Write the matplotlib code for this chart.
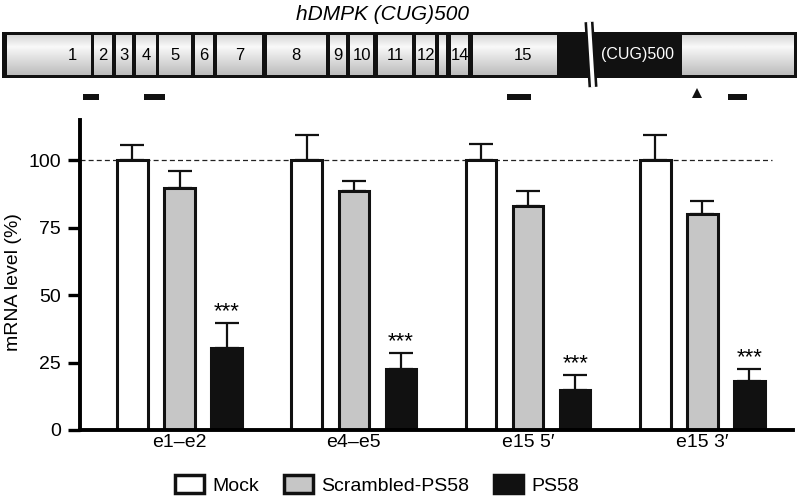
import numpy as np
import matplotlib
matplotlib.use("Agg")
import matplotlib.pyplot as plt
from matplotlib.patches import Rectangle, Patch, Polygon

plt.rcParams['font.family'] = ['Liberation Sans', 'DejaVu Sans']

# bar chart data
regions = ["e1\u2013e2", "e4\u2013e5", "e15 5\u2032", "e15 3\u2032"]
series = ["Mock", "Scrambled-PS58", "PS58"]
mock = [100, 100, 100, 100]
mock_err = [5.7, 9.4, 6.0, 9.3]
scrambled = [89.6, 88.6, 83.0, 80.3]
scrambled_err = [6.4, 3.6, 5.5, 4.8]
ps58 = [30.3, 22.5, 15.0, 18.0]
ps58_err = [9.4, 6.0, 5.3, 4.5]
signif = ["***", "***", "***", "***"]

# gene diagram (pixel units of the top strip)
exon_names = ["1", "2", "3", "4", "5", "6", "7", "8", "9", "10",
              "11", "12", "", "14", "15", ""]
exon_start = [7, 94, 116, 136, 159, 195, 217, 267, 330, 350,
              378, 416, 439, 451, 473, 682]
exon_end = [91, 112, 132, 156, 191, 213, 262, 326, 346, 373,
            412, 435, 446, 468, 557, 794]
exon_label_x = [72, 103, 124, 146, 175, 204, 240, 296, 338, 362,
                395, 426, 443, 460, 523, 738]
primer_start = [83, 144, 507, 728]
primer_end = [99, 165, 531, 747]
arrow_x = 697
repeat_label = "(CUG)500"
repeat_x = 637

W, H = 799, 497
fig = plt.figure(figsize=(W / 100, H / 100), dpi=100)

# ---- top: gene structure ----
top = fig.add_axes([0, (H - 110) / H, 1, 110 / H])
top.axis("off")

top.text(383, 14, "hDMPK (CUG)500", style="italic", fontsize=15,
         ha="center", va="center")

top.add_patch(Rectangle((2, 32), 795, 46, facecolor="#111111",
                        edgecolor="none", zorder=1))

grad = np.concatenate([np.linspace(0.84, 0.97, 12), np.linspace(0.97, 0.74, 28)])
grad = grad.reshape(-1, 1)
for name, x0, x1, lx in zip(exon_names, exon_start, exon_end, exon_label_x):
    top.imshow(grad, cmap="gray", vmin=0, vmax=1, aspect="auto",
               extent=(x0, x1, 75, 35), zorder=2, interpolation="bilinear")
    if name:
        top.text(lx, 55, name, fontsize=12, ha="center", va="center", zorder=3)

top.text(repeat_x, 55, repeat_label, fontsize=11.5, color="white",
         ha="center", va="center", zorder=3)

# break mark
top.plot([589, 593], [22, 87], color="#111111", lw=6.5, zorder=4,
         solid_capstyle="butt")
top.plot([589, 593], [22, 87], color="white", lw=2.8, zorder=5,
         solid_capstyle="butt")

for x0, x1 in zip(primer_start, primer_end):
    top.add_patch(Rectangle((x0, 94), x1 - x0, 6, facecolor="#111111",
                            edgecolor="none"))
top.add_patch(Polygon([[arrow_x - 5, 98], [arrow_x + 5, 98], [arrow_x, 88]],
                      closed=True, facecolor="#111111", edgecolor="none"))
top.set_xlim(0, W)
top.set_ylim(110, 0)

# ---- bottom: bar chart ----
ax = fig.add_axes([80 / W, 67 / H, 713 / W, 310 / H])
x = np.arange(len(regions))
off = 0.27
width = 0.175
colors = ["white", "#c6c6c6", "#111111"]
vals = [mock, scrambled, ps58]
errs = [mock_err, scrambled_err, ps58_err]

ax.axhline(100, xmin=0, xmax=(3.40 + 0.571) / (3.52 + 0.571), color="#222222",
           lw=0.9, ls=(0, (4, 2.5)), zorder=0)

for i, (v, e, c) in enumerate(zip(vals, errs, colors)):
    pos = x + (i - 1) * off
    ax.errorbar(pos, v, yerr=[np.zeros(len(e)), e], fmt="none", ecolor="#111111",
                elinewidth=1.6, capsize=8.5, capthick=1.6, zorder=1)
    ax.bar(pos, v, width=width, color=c, edgecolor="#111111", linewidth=2.2,
           zorder=2)

for xi, v, e, s in zip(x, ps58, ps58_err, signif):
    ax.text(xi + off, v + e + 0.3, s, fontsize=16, ha="center", va="bottom")

ax.set_xlim(-0.571, 3.52)
ax.set_ylim(0, 115)
ax.set_yticks([0, 25, 50, 75, 100])
ax.set_xticks(x)
ax.set_xticklabels(regions)
ax.tick_params(axis="y", length=8.6, width=2.4, labelsize=14, pad=5)
ax.tick_params(axis="x", length=0, labelsize=14, pad=3)
for side in ["top", "right"]:
    ax.spines[side].set_visible(False)
ax.spines["left"].set_linewidth(2.8)
ax.spines["bottom"].set_linewidth(2.8)
fig.text(14 / W, 1 - 282 / H, "mRNA level (%)", fontsize=14, rotation=90,
         ha="center", va="center")

handles = [Patch(facecolor=c, edgecolor="#111111", linewidth=2.5) for c in colors]
fig.legend(handles, series, loc="center", bbox_to_anchor=(377 / W, 1 - 485 / H),
           ncol=3, frameon=False, fontsize=14, handlelength=1.5,
           handleheight=1.0, handletextpad=0.45, columnspacing=1.25,
           borderaxespad=0)

fig.savefig("out.png", dpi=100)
